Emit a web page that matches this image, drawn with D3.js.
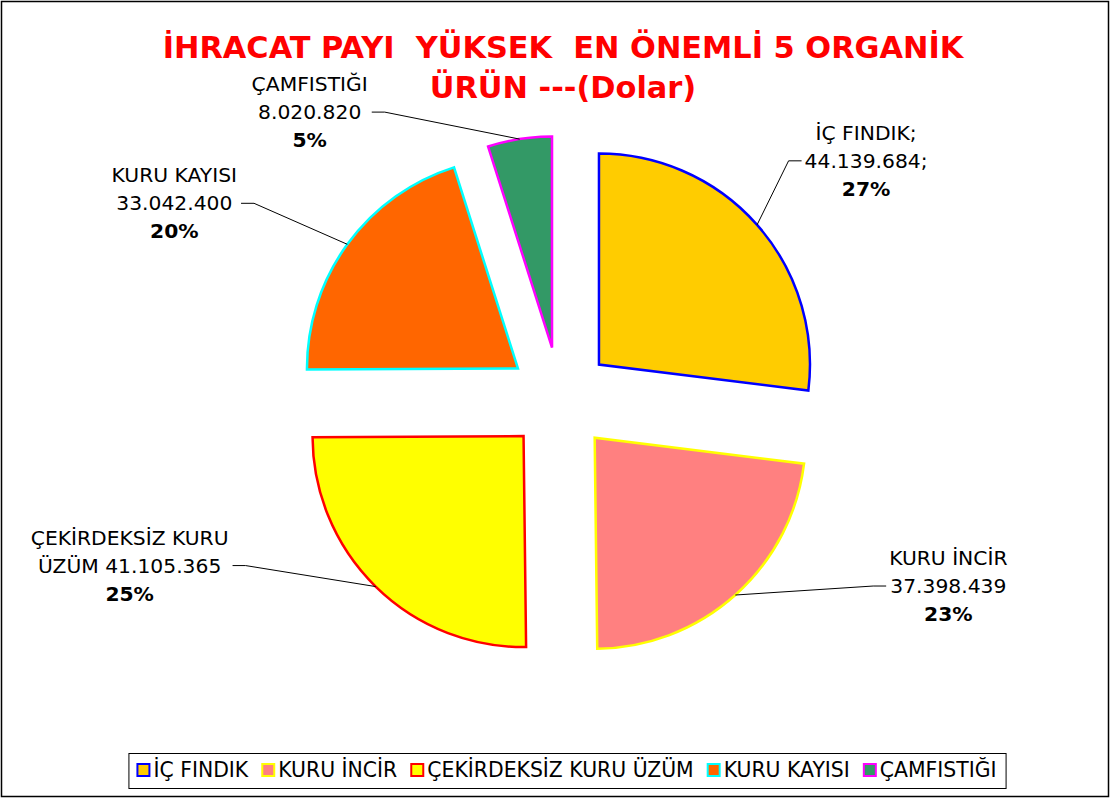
<!DOCTYPE html>
<html>
<head>
<meta charset="utf-8">
<script src="https://cdn.jsdelivr.net/npm/d3@7"></script>
<style>
  body { margin: 0; background: #fff; }
  svg text { font-family: "DejaVu Sans", Verdana, sans-serif; white-space: pre; }
</style>
</head>
<body>
<div class="container"></div>
<script>
// data
const names = ["İÇ FINDIK", "KURU İNCİR", "ÇEKİRDEKSİZ KURU ÜZÜM", "KURU KAYISI", "ÇAMFISTIĞI"];
const values = [44139684, 37398439, 41105365, 33042400, 8020820];
const fills = ["#FFCC00", "#FF8080", "#FFFF00", "#FF6600", "#339966"];
const strokes = ["#0000FF", "#FFFF00", "#FF0000", "#00FFFF", "#FF00FF"];
const titleLines = ["İHRACAT PAYI  YÜKSEK  EN ÖNEMLİ 5 ORGANİK", "ÜRÜN ---(Dolar)"];
const labelSep = [";", "", "", "", ""];

// label placement, relative to the point where the leader meets the slice
const labelOffset = [[109, -85], [213, -30], [-246, -42], [-173, -62], [-210, -48]];

const width = 1111;
const height = 798;
const cx = 560, cy = 399;
const radius = 211;
const explode = 52;

const fmt = d3.formatLocale({ decimal: ",", thousands: ".", grouping: [3], currency: ["", ""] }).format(",d");
const total = d3.sum(values);

const svg = d3.select('.container')
    .append('svg')
    .attr('width', width)
    .attr('height', height);

svg.append('rect')
    .attr('x', 1.5).attr('y', 1.5)
    .attr('width', width - 4).attr('height', height - 3)
    .attr('fill', 'none')
    .attr('stroke', '#000')
    .attr('stroke-width', 1.5);

// Title
svg.append('g').selectAll('text')
    .data(titleLines)
    .enter()
    .append('text')
    .attr('x', 563)
    .attr('y', (d, i) => 58 + i * 40)
    .attr('text-anchor', 'middle')
    .attr('font-size', '30.4px')
    .attr('font-weight', 'bold')
    .attr('fill', '#FF0000')
    .text(d => d);

const pie = d3.pie().sort(null).value(d => d);
const arcs = pie(values);
const arc = d3.arc().innerRadius(0).outerRadius(radius);

const mid = d => (d.startAngle + d.endAngle) / 2;

const slices = svg.append('g')
    .selectAll('g')
    .data(arcs)
    .enter()
    .append('g')
    .attr('transform', d => `translate(${cx + explode * Math.sin(mid(d))},${cy - explode * Math.cos(mid(d))})`);

slices.append('path')
    .attr('d', arc)
    .attr('fill', (d, i) => fills[i])
    .attr('stroke', (d, i) => strokes[i])
    .attr('stroke-width', 2.5);

// Labels
const labels = arcs.map((d, i) => {
    const a = mid(d);
    const px = cx + (explode + radius) * Math.sin(a);
    const py = cy - (explode + radius) * Math.cos(a);
    let first = names[i] + labelSep[i];
    let second = fmt(values[i]) + labelSep[i];
    if (names[i].length > 15) {
        const cut = names[i].lastIndexOf(' ');
        first = names[i].slice(0, cut);
        second = names[i].slice(cut + 1) + ' ' + second;
    }
    const pct = Math.round(values[i] / total * 100) + '%';
    return { px, py, lines: [first, second, pct], x: px + labelOffset[i][0], y: py + labelOffset[i][1] };
});

const labelG = svg.append('g')
    .selectAll('g')
    .data(labels)
    .enter()
    .append('g');

labelG.each(function(d) {
    const g = d3.select(this);
    const t = g.append('text')
        .attr('text-anchor', 'middle')
        .attr('font-size', '20.3px')
        .attr('fill', '#000');
    d.lines.forEach((line, j) => {
        t.append('tspan')
            .attr('x', d.x)
            .attr('y', d.y + j * 28)
            .attr('font-weight', j === 2 ? 'bold' : 'normal')
            .text(line);
    });
    const w = d3.max(t.selectAll('tspan').nodes(), n => n.getComputedTextLength());
    const left = d.x < d.px;
    const sx = left ? d.x + w / 2 + 4 : d.x - w / 2 - 3;
    const sy = d.y + 28 - 7;
    const ex = left ? sx + 13 : sx - 13;
    g.insert('polyline', 'text')
        .attr('points', `${sx},${sy} ${ex},${sy} ${d.px},${d.py}`)
        .attr('fill', 'none')
        .attr('stroke', '#000')
        .attr('stroke-width', 1);
});

// Legend
const legend = svg.append('g');
const legendBox = legend.append('rect')
    .attr('fill', '#fff')
    .attr('stroke', '#000')
    .attr('stroke-width', 1);

const sq = 12;
const gap = 14;
let lx = 0;
const items = legend.selectAll('g.item')
    .data(names)
    .enter()
    .append('g')
    .attr('class', 'item');

items.append('rect')
    .attr('width', sq)
    .attr('height', sq)
    .attr('y', -sq / 2)
    .attr('fill', (d, i) => fills[i])
    .attr('stroke', (d, i) => strokes[i])
    .attr('stroke-width', 2);

items.append('text')
    .attr('x', sq + 4)
    .attr('y', 7)
    .attr('font-size', '20.4px')
    .attr('fill', '#000')
    .text(d => d);

const offsets = [];
items.each(function() {
    offsets.push(lx);
    lx += sq + 4 + d3.select(this).select('text').node().getComputedTextLength() + gap;
});

const legendW = lx - gap + 18;
const legendX = 567 - legendW / 2;
legendBox.attr('x', legendX + 0.5).attr('y', 753.5).attr('width', legendW).attr('height', 35);
items.attr('transform', (d, i) => `translate(${legendX + 9 + offsets[i]},770)`);
</script>
</body>
</html>
